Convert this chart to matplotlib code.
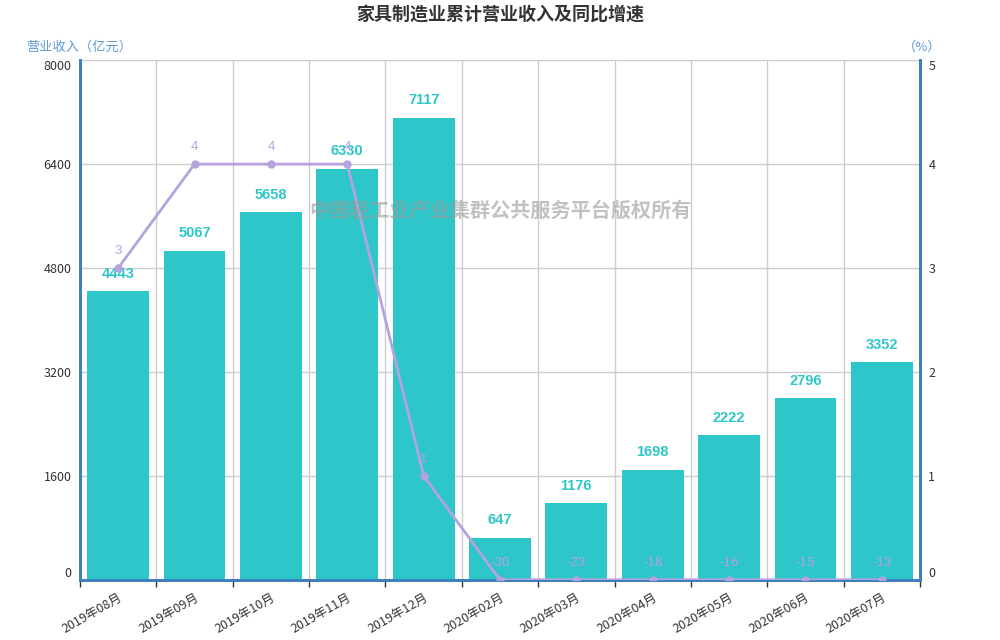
import matplotlib.pyplot as plt
import numpy as np

plt.rcParams['font.family'] = ['Noto Sans CJK SC', 'DejaVu Sans']

months = ['2019年08月', '2019年09月', '2019年10月', '2019年11月', '2019年12月',
          '2020年02月', '2020年03月', '2020年04月', '2020年05月', '2020年06月', '2020年07月']
revenue = [4443, 5067, 5658, 6330, 7117, 647, 1176, 1698, 2222, 2796, 3352]
growth = [3, 4, 4, 4, 1, -30, -23, -18, -16, -15, -13]

bar_color = '#2ec7c9'
line_color = '#b6a2de'
axis_color = '#3f7fbf'
name_color = '#5b9bd5'

fig = plt.figure(figsize=(10, 6.4), dpi=100)
ax = fig.add_axes([0.08, 0.094, 0.84, 0.812])
ax2 = ax.twinx()

x = np.arange(len(months))
ax.bar(x, revenue, width=0.81, color=bar_color, zorder=2)
for xi, v in zip(x, revenue):
    ax.annotate(str(v), (xi, v), xytext=(0, 7.5), textcoords='offset points',
                ha='center', va='bottom', color=bar_color, fontsize=10.5,
                fontweight='bold', family=['Liberation Sans', 'DejaVu Sans'])

ax.set_xlim(-0.5, len(months) - 0.5)
ax.set_ylim(0, 8000)
ax.set_yticks(np.arange(0, 8001, 1600))
ax.set_xticks(np.arange(-0.5, len(months), 1))
ax.set_xticklabels([])
ax.set_xticks(x, minor=True)
ax.set_xticklabels(months, minor=True, rotation=30, ha='right',
                   rotation_mode='anchor', fontsize=9, color='#333333')
ax.tick_params(axis='x', which='major', length=5, color='#333333', width=1)
ax.tick_params(axis='x', which='minor', length=0, pad=8)
ax.tick_params(axis='y', length=0, labelsize=9, labelcolor='#333333', pad=6)
ax.grid(True, color='#cccccc', linewidth=1, which='major', zorder=0)
ax.set_axisbelow(True)

# line on right axis, values below axis minimum sit on the bottom
shown = np.clip(growth, 0, 5)
ax2.plot(x, shown, color=line_color, linewidth=2, marker='o', markersize=5, zorder=5)
for xi, v, s in zip(x, growth, shown):
    ax2.annotate(str(v), (xi, s), xytext=(0, 8), textcoords='offset points',
                 ha='center', va='bottom', color=line_color, fontsize=9.5,
                 family=['Liberation Sans', 'DejaVu Sans'])
ax2.set_ylim(0, 5)
ax2.set_yticks(range(0, 6))
ax2.tick_params(axis='y', length=0, labelsize=9, labelcolor='#333333', pad=6)

# first and last tick labels sit inside the axis range
for a in (ax, ax2):
    labels = a.get_yticklabels()
    labels[0].set_va('bottom')
    labels[-1].set_va('top')

for a in (ax, ax2):
    a.spines['top'].set_visible(False)
    for s in ('left', 'right', 'bottom'):
        a.spines[s].set_color(axis_color)
        a.spines[s].set_linewidth(2)

fig.text(0.5, 0.976, '家具制造业累计营业收入及同比增速', ha='center', va='center',
         fontsize=13, fontweight='bold', color='#333333')
fig.text(0.079, 0.926, '营业收入（亿元）', ha='center', va='center',
         fontsize=9.5, color=name_color)
fig.text(0.922, 0.926, '（%）', ha='center', va='center',
         fontsize=9.5, color=name_color)
fig.text(0.5, 0.672, '中国轻工业产业集群公共服务平台版权所有', ha='center', va='center',
         fontsize=14.5, fontweight='bold', color='#999999', alpha=0.6, zorder=10)

fig.savefig('out.png', dpi=100)
